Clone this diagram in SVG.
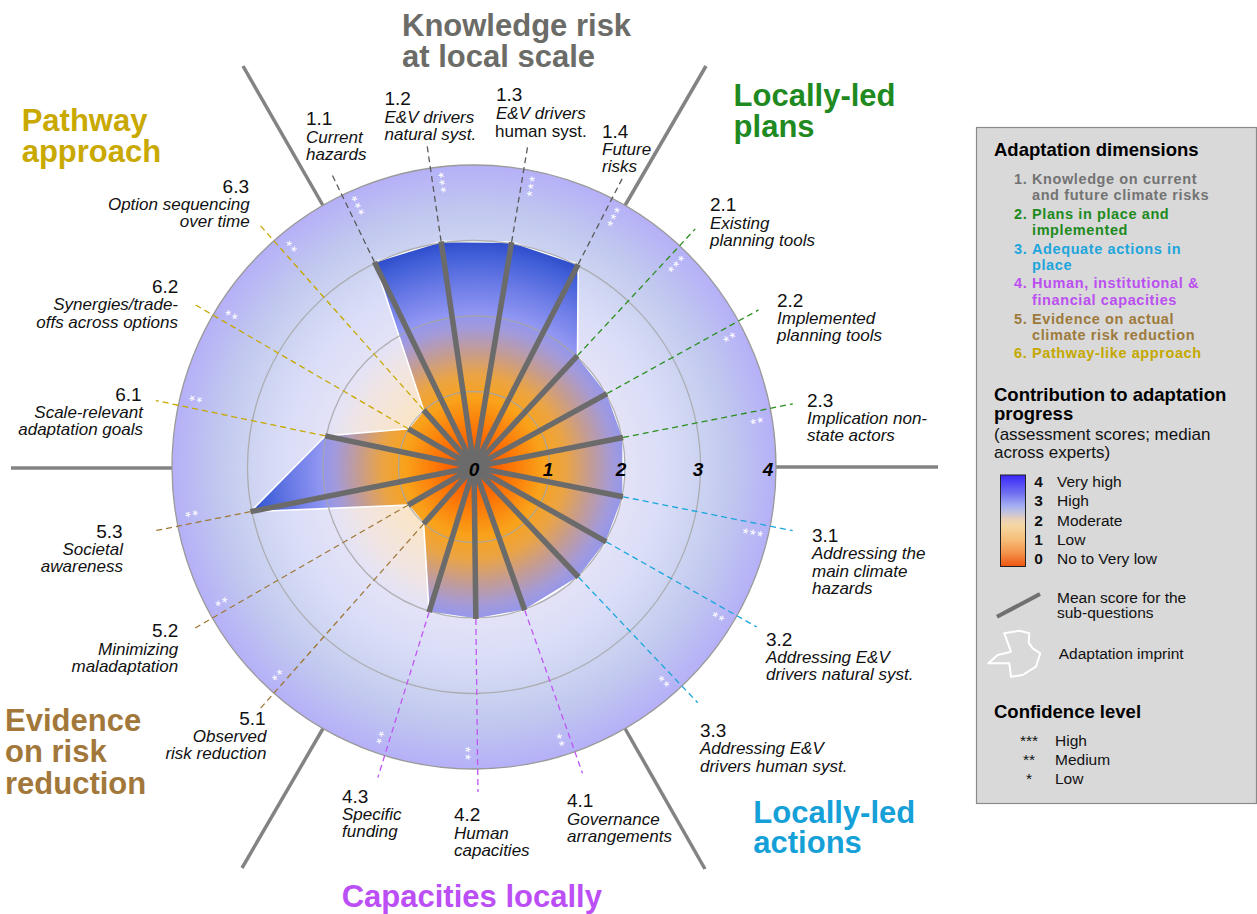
<svg xmlns="http://www.w3.org/2000/svg" width="1257" height="914" viewBox="0 0 1257 914">
<defs>
<radialGradient id="bgGrad" gradientUnits="userSpaceOnUse" cx="474" cy="467" r="302">
<stop offset="0" stop-color="#fde3bb"/>
<stop offset="0.25" stop-color="#fbe5c6"/>
<stop offset="0.4" stop-color="#f1e5e2"/>
<stop offset="0.5" stop-color="#e3e2f7"/>
<stop offset="0.62" stop-color="#dbdef8"/>
<stop offset="0.75" stop-color="#ccd3f1"/>
<stop offset="0.86" stop-color="#c0c6ef"/>
<stop offset="1" stop-color="#b5b0f8"/>
</radialGradient>
<radialGradient id="polyGrad" gradientUnits="userSpaceOnUse" cx="474" cy="467" r="230">
<stop offset="0" stop-color="#ff4a00"/>
<stop offset="0.12" stop-color="#ff6800"/>
<stop offset="0.3" stop-color="#f9a21a"/>
<stop offset="0.4" stop-color="#eba444"/>
<stop offset="0.5" stop-color="#c59c90"/>
<stop offset="0.6" stop-color="#a49ad8"/>
<stop offset="0.67" stop-color="#9096f2"/>
<stop offset="0.8" stop-color="#6a7ae6"/>
<stop offset="0.92" stop-color="#4260d8"/>
<stop offset="1" stop-color="#2a48c8"/>
</radialGradient>
<linearGradient id="barGrad" x1="0" y1="1" x2="0" y2="0">
<stop offset="0" stop-color="#ee5510"/>
<stop offset="0.14" stop-color="#f39048"/>
<stop offset="0.29" stop-color="#f6bc78"/>
<stop offset="0.44" stop-color="#f5d7a0"/>
<stop offset="0.52" stop-color="#e8d0b8"/>
<stop offset="0.58" stop-color="#c8c4d8"/>
<stop offset="0.66" stop-color="#a6b0f2"/>
<stop offset="0.8" stop-color="#7070f0"/>
<stop offset="1" stop-color="#3a26f8"/>
</linearGradient>
</defs>
<style>
text{font-family:"Liberation Sans",Arial,Helvetica,sans-serif}
.num{font-size:19px;fill:#111}
.lab{font-size:17px;font-style:italic;fill:#111}
.up{font-style:normal}
.r{text-anchor:end}
.title{font-size:31px;font-weight:bold}
.ax{font-size:19px;font-weight:bold;font-style:italic;text-anchor:middle;fill:#000}
.st{font-size:15px;fill:#fff;text-anchor:middle;letter-spacing:1.5px}
.spoke{stroke:#6b6b6b;stroke-width:5.5}
.dash{stroke-width:1.3;stroke-dasharray:6 4;fill:none}
.d1{stroke:#5a5a5a}.d2{stroke:#2a8f1e}.d3{stroke:#1aa6dc}.d4{stroke:#c055f5}.d5{stroke:#a07838}.d6{stroke:#c8a800}
.sep{stroke:#838383;stroke-width:3.5}
.ring{fill:none;stroke:#a6a6a6;stroke-width:1.3;opacity:0.85}
.lh{font-size:18.5px;font-weight:bold;fill:#000}
.lg{font-size:14.5px;font-weight:bold;letter-spacing:0.6px}
.lt{font-size:15.5px;fill:#111}
.lb{font-size:15.5px;font-weight:bold;fill:#111}
</style>
<rect width="1257" height="914" fill="#fff"/>

<g id="separators">
<line class="sep" x1="776" y1="467" x2="938" y2="467"/>
<line class="sep" x1="625" y1="205.5" x2="706" y2="66"/>
<line class="sep" x1="323" y1="205.5" x2="243" y2="66"/>
<line class="sep" x1="172" y1="468" x2="11" y2="468"/>
<line class="sep" x1="323" y1="728.5" x2="242" y2="868"/>
<line class="sep" x1="625" y1="728.5" x2="705" y2="869"/>
</g>

<g id="disk">
<circle cx="474" cy="467" r="302" fill="url(#bgGrad)" stroke="#9a9a9a" stroke-width="1.3"/>
<polygon id="imprint" points="374.4,261.9 441.1,241.4 511.6,242.1 578.2,264.2 577.5,355.7 607.1,393.5 623.1,437.5 623.1,496.8 606.3,541.8 578.6,577.3 524.7,610.3 475.9,619.0 429.1,612.2 423.6,523.9 408.2,505.0 250.4,511.7 325.2,435.9 408.3,428.8 423.6,410.1" fill="url(#polyGrad)" stroke="#fff" stroke-width="1.6" stroke-linejoin="miter"/>
<circle class="ring" cx="474" cy="467" r="75.5"/>
<circle class="ring" cx="474" cy="467" r="151"/>
<circle class="ring" cx="474" cy="467" r="226.5"/>
</g>

<g id="connectors">
<line class="dash d1" x1="702" y1="467" x2="799" y2="467" transform="rotate(-115.9 474 467)"/>
<line class="dash d1" x1="702" y1="467" x2="799" y2="467" transform="rotate(-98.3 474 467)"/>
<line class="dash d1" x1="702" y1="467" x2="799" y2="467" transform="rotate(-80.5 474 467)"/>
<line class="dash d1" x1="702" y1="467" x2="799" y2="467" transform="rotate(-62.8 474 467)"/>
<line class="dash d2" x1="626" y1="467" x2="799" y2="467" transform="rotate(-47.1 474 467)"/>
<line class="dash d2" x1="626" y1="467" x2="799" y2="467" transform="rotate(-28.9 474 467)"/>
<line class="dash d2" x1="626" y1="467" x2="799" y2="467" transform="rotate(-11.2 474 467)"/>
<line class="dash d3" x1="626" y1="467" x2="799" y2="467" transform="rotate(11.3 474 467)"/>
<line class="dash d3" x1="626" y1="467" x2="799" y2="467" transform="rotate(29.5 474 467)"/>
<line class="dash d3" x1="626" y1="467" x2="799" y2="467" transform="rotate(46.5 474 467)"/>
<line class="dash d4" x1="626" y1="467" x2="799" y2="467" transform="rotate(70.5 474 467)"/>
<line class="dash d4" x1="626" y1="467" x2="799" y2="467" transform="rotate(89.3 474 467)"/>
<line class="dash d4" x1="626" y1="467" x2="799" y2="467" transform="rotate(107.2 474 467)"/>
<line class="dash d5" x1="550" y1="467" x2="799" y2="467" transform="rotate(131.5 474 467)"/>
<line class="dash d5" x1="550" y1="467" x2="799" y2="467" transform="rotate(150 474 467)"/>
<line class="dash d5" x1="702" y1="467" x2="799" y2="467" transform="rotate(168.7 474 467)"/>
<line class="dash d6" x1="626" y1="467" x2="799" y2="467" transform="rotate(-168.2 474 467)"/>
<line class="dash d6" x1="550" y1="467" x2="799" y2="467" transform="rotate(-149.8 474 467)"/>
<line class="dash d6" x1="550" y1="467" x2="799" y2="467" transform="rotate(-131.5 474 467)"/>
</g>

<g id="spokes">
<line class="spoke" x1="474" y1="467" x2="702" y2="467" transform="rotate(-115.9 474 467)"/>
<line class="spoke" x1="474" y1="467" x2="702" y2="467" transform="rotate(-98.3 474 467)"/>
<line class="spoke" x1="474" y1="467" x2="702" y2="467" transform="rotate(-80.5 474 467)"/>
<line class="spoke" x1="474" y1="467" x2="702" y2="467" transform="rotate(-62.8 474 467)"/>
<line class="spoke" x1="474" y1="467" x2="626" y2="467" transform="rotate(-47.1 474 467)"/>
<line class="spoke" x1="474" y1="467" x2="626" y2="467" transform="rotate(-28.9 474 467)"/>
<line class="spoke" x1="474" y1="467" x2="626" y2="467" transform="rotate(-11.2 474 467)"/>
<line class="spoke" x1="474" y1="467" x2="626" y2="467" transform="rotate(11.3 474 467)"/>
<line class="spoke" x1="474" y1="467" x2="626" y2="467" transform="rotate(29.5 474 467)"/>
<line class="spoke" x1="474" y1="467" x2="626" y2="467" transform="rotate(46.5 474 467)"/>
<line class="spoke" x1="474" y1="467" x2="626" y2="467" transform="rotate(70.5 474 467)"/>
<line class="spoke" x1="474" y1="467" x2="626" y2="467" transform="rotate(89.3 474 467)"/>
<line class="spoke" x1="474" y1="467" x2="626" y2="467" transform="rotate(107.2 474 467)"/>
<line class="spoke" x1="474" y1="467" x2="550" y2="467" transform="rotate(131.5 474 467)"/>
<line class="spoke" x1="474" y1="467" x2="550" y2="467" transform="rotate(150 474 467)"/>
<line class="spoke" x1="474" y1="467" x2="702" y2="467" transform="rotate(168.7 474 467)"/>
<line class="spoke" x1="474" y1="467" x2="626" y2="467" transform="rotate(-168.2 474 467)"/>
<line class="spoke" x1="474" y1="467" x2="550" y2="467" transform="rotate(-149.8 474 467)"/>
<line class="spoke" x1="474" y1="467" x2="550" y2="467" transform="rotate(-131.5 474 467)"/>
</g>

<g id="stars">
<text class="st" x="761" y="484.2" transform="rotate(-115.9 474 467)">***</text>
<text class="st" x="761" y="484.2" transform="rotate(-98.3 474 467)">***</text>
<text class="st" x="761" y="484.2" transform="rotate(-80.5 474 467)">***</text>
<text class="st" x="761" y="484.2" transform="rotate(-62.8 474 467)">***</text>
<text class="st" x="761" y="484.2" transform="rotate(-47.1 474 467)">***</text>
<text class="st" x="761" y="484.2" transform="rotate(-28.9 474 467)">**</text>
<text class="st" x="761" y="484.2" transform="rotate(-11.2 474 467)">**</text>
<text class="st" x="761" y="484.2" transform="rotate(11.3 474 467)">***</text>
<text class="st" x="761" y="484.2" transform="rotate(29.5 474 467)">**</text>
<text class="st" x="761" y="484.2" transform="rotate(46.5 474 467)">**</text>
<text class="st" x="761" y="484.2" transform="rotate(70.5 474 467)">**</text>
<text class="st" x="761" y="484.2" transform="rotate(89.3 474 467)">**</text>
<text class="st" x="761" y="484.2" transform="rotate(107.2 474 467)">**</text>
<text class="st" x="761" y="484.2" transform="rotate(131.5 474 467)">**</text>
<text class="st" x="761" y="484.2" transform="rotate(150 474 467)">**</text>
<text class="st" x="761" y="484.2" transform="rotate(168.7 474 467)">**</text>
<text class="st" x="761" y="484.2" transform="rotate(-168.2 474 467)">**</text>
<text class="st" x="761" y="484.2" transform="rotate(-149.8 474 467)">**</text>
<text class="st" x="761" y="484.2" transform="rotate(-131.5 474 467)">**</text>
</g>

<g id="axis-labels">
<text class="ax" x="474" y="476">0</text>
<text class="ax" x="548" y="476">1</text>
<text class="ax" x="621" y="476">2</text>
<text class="ax" x="698" y="476">3</text>
<text class="ax" x="768" y="476">4</text>
</g>

<g id="item-1-1"><text class="num" x="306" y="125">1.1</text><text class="lab"><tspan x="306" y="142.5">Current</tspan><tspan x="306" y="159.5">hazards</tspan></text></g>
<g id="item-1-2"><text class="num" x="384.5" y="104.5">1.2</text><text class="lab"><tspan x="384.5" y="122.5">E&amp;V drivers</tspan><tspan x="384.5" y="140">natural syst.</tspan></text></g>
<g id="item-1-3"><text class="num" x="496" y="101">1.3</text><text class="lab"><tspan x="496" y="119">E&amp;V drivers</tspan><tspan class="up" x="495" y="136.5">human syst.</tspan></text></g>
<g id="item-1-4"><text class="num" x="602" y="137.5">1.4</text><text class="lab"><tspan x="602" y="155">Future</tspan><tspan x="602" y="172">risks</tspan></text></g>
<g id="item-2-1"><text class="num" x="710" y="211">2.1</text><text class="lab"><tspan x="710" y="228.5">Existing</tspan><tspan x="710" y="246">planning tools</tspan></text></g>
<g id="item-2-2"><text class="num" x="777" y="306.7">2.2</text><text class="lab"><tspan x="777" y="324">Implemented</tspan><tspan x="777" y="341">planning tools</tspan></text></g>
<g id="item-2-3"><text class="num" x="807" y="406.7">2.3</text><text class="lab"><tspan x="807" y="424">Implication non-</tspan><tspan x="807" y="441">state actors</tspan></text></g>
<g id="item-3-1"><text class="num" x="812" y="541.7">3.1</text><text class="lab"><tspan x="812" y="559">Addressing the</tspan><tspan x="812" y="576.5">main climate</tspan><tspan x="812" y="593.5">hazards</tspan></text></g>
<g id="item-3-2"><text class="num" x="766" y="645.7">3.2</text><text class="lab"><tspan x="766" y="663.3">Addressing E&amp;V</tspan><tspan x="766" y="680.3">drivers natural syst.</tspan></text></g>
<g id="item-3-3"><text class="num" x="700" y="736.7">3.3</text><text class="lab"><tspan x="700" y="754.3">Addressing E&amp;V</tspan><tspan x="700" y="771.7">drivers human syst.</tspan></text></g>
<g id="item-4-1"><text class="num" x="567" y="806.7">4.1</text><text class="lab"><tspan x="567" y="825">Governance</tspan><tspan x="567" y="842.3">arrangements</tspan></text></g>
<g id="item-4-2"><text class="num" x="454" y="821">4.2</text><text class="lab"><tspan x="454" y="839">Human</tspan><tspan x="454" y="856">capacities</tspan></text></g>
<g id="item-4-3"><text class="num" x="342" y="802.7">4.3</text><text class="lab"><tspan x="342" y="820">Specific</tspan><tspan x="342" y="836.7">funding</tspan></text></g>
<g id="item-5-1"><text class="num r" x="265.7" y="724.7">5.1</text><text class="lab r"><tspan x="266.5" y="741.8">Observed</tspan><tspan x="266.5" y="759">risk reduction</tspan></text></g>
<g id="item-5-2"><text class="num r" x="178.3" y="637.4">5.2</text><text class="lab r"><tspan x="178.3" y="654.6">Minimizing</tspan><tspan x="178.3" y="672">maladaptation</tspan></text></g>
<g id="item-5-3"><text class="num r" x="122.7" y="537.6">5.3</text><text class="lab r"><tspan x="123" y="555">Societal</tspan><tspan x="123" y="572">awareness</tspan></text></g>
<g id="item-6-1"><text class="num r" x="141.7" y="401">6.1</text><text class="lab r"><tspan x="143" y="418">Scale-relevant</tspan><tspan x="143" y="435.3">adaptation goals</tspan></text></g>
<g id="item-6-2"><text class="num r" x="178.3" y="293">6.2</text><text class="lab r"><tspan x="178" y="310.3">Synergies/trade-</tspan><tspan x="178" y="327.5">offs across options</tspan></text></g>
<g id="item-6-3"><text class="num r" x="249" y="192.7">6.3</text><text class="lab r"><tspan x="249.7" y="210.3">Option sequencing</tspan><tspan x="249.7" y="227">over time</tspan></text></g>

<g id="dimension-titles">
<text class="title" fill="#6b6b67"><tspan x="402" y="36">Knowledge risk</tspan><tspan x="402" y="66.7">at local scale</tspan></text>
<text class="title" fill="#1f8a1f"><tspan x="733.6" y="106">Locally-led</tspan><tspan x="733.6" y="136.7">plans</tspan></text>
<text class="title" fill="#16a0d8"><tspan x="753.3" y="823.3">Locally-led</tspan><tspan x="753.3" y="853.3">actions</tspan></text>
<text class="title" fill="#bb4ff5" x="341.7" y="906.7">Capacities locally</text>
<text class="title" fill="#a2783a"><tspan x="5" y="731.4">Evidence</tspan><tspan x="5" y="762.4">on risk</tspan><tspan x="5" y="794">reduction</tspan></text>
<text class="title" fill="#c9a900"><tspan x="21.7" y="130.7">Pathway</tspan><tspan x="21.7" y="162.3">approach</tspan></text>
</g>

<g id="legend">
<rect x="976.5" y="127.5" width="280" height="676" fill="#d9d9d9" stroke="#8a8a8a" stroke-width="1.2"/>
<text class="lh" x="994" y="155.7">Adaptation dimensions</text>
<g class="lg" fill="#737373"><text x="1014" y="184.3">1.</text><text x="1032" y="184.3">Knowledge on current</text><text x="1032" y="200">and future climate risks</text></g>
<g class="lg" fill="#1e8a1e"><text x="1014" y="219">2.</text><text x="1032" y="219">Plans in place and</text><text x="1032" y="234.7">implemented</text></g>
<g class="lg" fill="#1ea5dc"><text x="1014" y="254.3">3.</text><text x="1032" y="254.3">Adequate actions in</text><text x="1032" y="269.7">place</text></g>
<g class="lg" fill="#bb4ff0"><text x="1014" y="288.3">4.</text><text x="1032" y="288.3">Human, institutional &amp;</text><text x="1032" y="305.3">financial capacities</text></g>
<g class="lg" fill="#9d7a3c"><text x="1014" y="324.3">5.</text><text x="1032" y="324.3">Evidence on actual</text><text x="1032" y="340">climate risk reduction</text></g>
<g class="lg" fill="#c4a800"><text x="1014" y="358.3">6.</text><text x="1032" y="358.3">Pathway-like approach</text></g>

<text class="lh"><tspan x="994" y="401.2">Contribution to adaptation</tspan><tspan x="994" y="419.9">progress</tspan></text>
<text style="font-size:17px;fill:#111"><tspan x="994" y="439.5">(assessment scores; median</tspan><tspan x="994" y="458">across experts)</tspan></text>

<rect x="1000.5" y="475" width="25" height="91.5" fill="url(#barGrad)" stroke="#222" stroke-width="1"/>
<text class="lb" x="1034.3" y="486.7">4</text><text class="lt" x="1057" y="486.7">Very high</text>
<text class="lb" x="1034.3" y="506">3</text><text class="lt" x="1057" y="506">High</text>
<text class="lb" x="1034.3" y="525.7">2</text><text class="lt" x="1057" y="525.7">Moderate</text>
<text class="lb" x="1034.3" y="545">1</text><text class="lt" x="1057" y="545">Low</text>
<text class="lb" x="1034.3" y="564.3">0</text><text class="lt" x="1057" y="564.3">No to Very low</text>

<line x1="997" y1="616.7" x2="1040" y2="594" stroke="#707070" stroke-width="4"/>
<text class="lt"><tspan x="1057" y="602.7">Mean score for the</tspan><tspan x="1057" y="618">sub-questions</tspan></text>

<polygon points="1004.3,633.3 1019.3,630.7 1029.3,633.3 1028.7,642.7 1032.7,648.3 1040.3,653.3 1036,666.7 1022.7,675 1011,676.7 1009.3,663.3 988.3,663.3 997.7,655 1011,651.7" fill="none" stroke="#fff" stroke-width="2" stroke-linejoin="round"/>
<text class="lt" x="1058.7" y="659.3">Adaptation imprint</text>

<text class="lh" x="994" y="718.2">Confidence level</text>
<text class="lt" x="1029" y="746" text-anchor="middle" fill="#333">***</text><text class="lt" x="1055" y="746">High</text>
<text class="lt" x="1029" y="765" text-anchor="middle" fill="#333">**</text><text class="lt" x="1055" y="765">Medium</text>
<text class="lt" x="1029" y="784" text-anchor="middle" fill="#333">*</text><text class="lt" x="1055" y="784">Low</text>
</g>
</svg>
